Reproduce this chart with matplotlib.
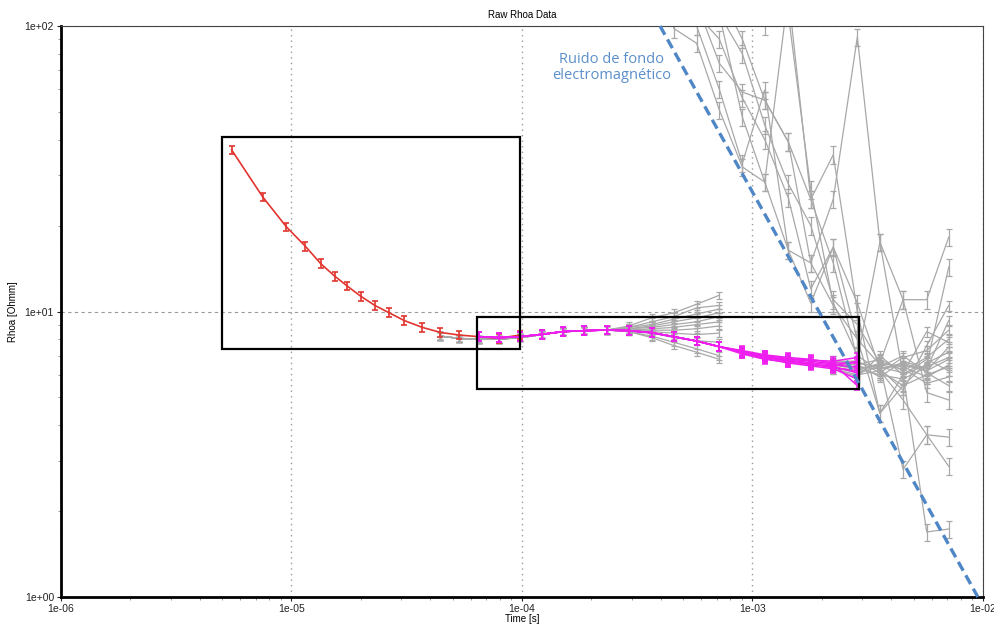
import numpy as np
import matplotlib.pyplot as plt
from matplotlib.patches import Rectangle
from matplotlib.ticker import LogLocator, FuncFormatter, NullFormatter

# time gates [s]
t = np.array([5.5e-6, 7.5e-6, 9.5e-6, 1.15e-5, 1.34e-5, 1.54e-5, 1.74e-5, 2.0e-5,
              2.3e-5, 2.65e-5, 3.08e-5, 3.69e-5, 4.42e-5, 5.33e-5, 6.53e-5, 7.94e-5,
              9.8e-5, 1.22e-4, 1.50e-4, 1.86e-4, 2.33e-4, 2.91e-4, 3.65e-4, 4.56e-4,
              5.72e-4, 7.18e-4, 9.03e-4, 1.13e-3, 1.43e-3, 1.79e-3, 2.24e-3, 2.85e-3,
              3.57e-3, 4.5e-3, 5.7e-3, 7.1e-3])

# early time curve (gates 0-16)
rho_red = [36.8, 25.2, 19.8, 16.9, 14.7, 13.3, 12.3, 11.3, 10.5, 9.9, 9.3, 8.8,
           8.45, 8.27, 8.16, 8.06, 8.27]

# selected late data (gates 14-31), one common head and several tails (gates 26-31)
rho_magenta = [8.16, 8.1, 8.16, 8.32, 8.5, 8.57, 8.61, 8.57, 8.43, 8.16, 7.88, 7.53,
               7.22, 6.95, 6.76, 6.62, 6.5, 6.38]
magenta_tails = [
    [7.22, 6.95, 6.76, 6.62, 6.5, 6.38],
    [7.25, 7.0, 6.85, 6.75, 6.7, 6.9],
    [7.2, 6.9, 6.7, 6.55, 6.4, 6.1],
    [7.3, 7.05, 6.9, 6.8, 6.6, 6.6],
    [7.15, 6.85, 6.6, 6.45, 6.3, 5.8],
    [7.2, 6.95, 6.8, 6.7, 6.55, 5.5],
    [7.25, 6.95, 6.7, 6.5, 6.45, 6.7],
    [7.1, 6.8, 6.65, 6.55, 6.35, 6.2],
]

# raw soundings (grey)
grey_base = [8.2, 8.05, 8.0, 8.0, 8.1, 8.3, 8.5, 8.57, 8.61]   # gates 12-20
grey_fan = [                                                    # gates 21-25
    [8.9, 9.5, 9.9, 10.6, 11.4],
    [8.8, 9.2, 9.6, 10.3, 10.5],
    [8.8, 9.0, 9.4, 9.8, 10.2],
    [8.7, 8.9, 9.2, 9.5, 9.9],
    [8.7, 8.8, 9.0, 9.2, 9.6],
    [8.6, 8.7, 8.8, 9.0, 9.2],
    [8.6, 8.6, 8.6, 8.7, 8.9],
    [8.6, 8.5, 8.4, 8.3, 8.4],
    [8.5, 8.4, 8.1, 7.9, 7.8],
    [8.5, 8.2, 7.8, 7.4, 7.0],
    [8.5, 8.1, 7.6, 7.2, 6.8],
]
grey_noisy = [                                                  # gates 22-35
    [200, 98, 87, 50.8, 32.1, 28.4, 16.4, 10.7, 16.8, 10.7, 6.3, 6.5, 6.2, 6.8],
    [250, 160, 120, 74, 58.7, 55, 39.3, 24.7, 35.4, 10.0, 4.4, 5.5, 6.0, 6.4],
    [300, 200, 140, 110, 48, 28.4, 130, 24.7, 14.8, 6.8, 17.5, 11.0, 5.2, 4.9],
    [200, 150, 100, 60, 33, 59.7, 16.4, 14.8, 24.7, 91.5, 17.5, 6.0, 6.5, 14.3],
    [200, 180, 150, 130, 90, 55, 39.3, 14.8, 10.5, 8.0, 6.5, 2.8, 3.7, 3.63],
    [400, 300, 200, 150, 120, 100, 110, 26.7, 10.7, 7.0, 6.2, 4.9, 3.7, 2.87],
    [200, 150, 110, 90, 56, 40, 25, 12, 16.8, 8.0, 4.4, 6.0, 1.69, 1.73],
    [250, 200, 160, 110, 80, 45, 28, 20, 11, 9.0, 6.6, 11.0, 11.0, 18.2],
]
grey_late = [                                                   # gates 30-35
    [6.5, 6.4, 6.3, 6.6, 6.2, 7.5],
    [6.6, 6.5, 6.8, 6.2, 6.9, 8.0],
    [6.5, 6.3, 6.0, 5.8, 6.4, 6.9],
    [6.7, 6.6, 6.4, 7.0, 6.1, 5.5],
    [6.4, 6.2, 6.6, 6.4, 5.9, 6.5],
    [6.3, 6.0, 6.2, 5.5, 6.6, 7.2],
    [6.7, 6.7, 6.1, 6.9, 7.3, 8.6],
    [6.5, 6.3, 6.5, 6.3, 5.6, 5.9],
    [6.3, 5.9, 7.0, 6.0, 6.8, 6.2],
    [6.6, 6.5, 5.9, 6.7, 6.3, 9.3],
    [6.5, 6.4, 6.3, 5.3, 7.6, 10.5],
    [6.4, 6.1, 6.4, 6.1, 8.5, 7.8],
]

# annotation boxes (t0, t1, rho0, rho1) and noise line
box_early = (5.0e-6, 9.8e-5, 7.39, 40.9)
box_late = (6.36e-5, 2.9e-3, 5.36, 9.59)
noise_t = [3.97e-4, 9.5e-3]
noise_rho = [100, 1]

GREY = '#a8a8a8'
RED = '#e2352f'
MAGENTA = '#ee1fee'


def draw(ax, tt, vals, color, err, lw, z):
    vals = np.array(vals, dtype=float)
    ax.errorbar(tt, vals, yerr=vals * err, color=color, lw=lw, elinewidth=lw,
                capsize=2, capthick=lw, zorder=z)


fig = plt.figure(figsize=(9.95, 6.25), dpi=100)
ax = fig.add_axes([61 / 995, 28 / 625, 922 / 995, 571 / 625])
ax.set_xscale('log')
ax.set_yscale('log')

for fan in grey_fan:
    draw(ax, t[12:26], grey_base + fan, GREY, 0.03, 0.9, 2)
for cur in grey_noisy:
    draw(ax, t[22:36], cur, GREY, 0.07, 0.9, 2)
for cur in grey_late:
    draw(ax, t[30:36], cur, GREY, 0.04, 0.9, 2)

draw(ax, t[0:17], rho_red, RED, 0.035, 1.2, 3)
for tail in magenta_tails:
    draw(ax, t[14:32], rho_magenta[:12] + tail, MAGENTA, 0.035, 1.1, 4)

for t0, t1, r0, r1 in [box_early, box_late]:
    ax.add_patch(Rectangle((t0, r0), t1 - t0, r1 - r0, fill=False, ec='black',
                           lw=1.6, zorder=5))

ax.plot(noise_t, noise_rho, color='#4f86c6', lw=2.4, ls=(0, (3, 1.6)), zorder=6,
        clip_on=False)
ax.text(0.5976, 0.927, 'Ruido de fondo\nelectromagnético', transform=ax.transAxes,
        ha='center', va='center', color='#5b8fcb', fontsize=10.5, family='Open Sans',
        linespacing=1.05)

ax.set_xlim(1e-6, 1e-2)
ax.set_ylim(1, 100)
ax.xaxis.set_major_locator(LogLocator(base=10, numticks=10))
ax.yaxis.set_major_locator(LogLocator(base=10, numticks=10))
ax.xaxis.set_minor_locator(LogLocator(base=10, subs=np.arange(2, 10), numticks=20))
ax.yaxis.set_minor_locator(LogLocator(base=10, subs=np.arange(2, 10), numticks=20))
fmt = FuncFormatter(lambda v, p: f'{v:.0e}')
ax.xaxis.set_major_formatter(fmt)
ax.yaxis.set_major_formatter(fmt)
ax.xaxis.set_minor_formatter(NullFormatter())
ax.yaxis.set_minor_formatter(NullFormatter())
ax.tick_params(which='major', length=3, width=0.8, labelsize=7.5, colors='#222222', pad=2)
ax.tick_params(which='minor', length=2, width=0.6, color='#888888')
for lab in ax.get_xticklabels() + ax.get_yticklabels():
    lab.set_family('Liberation Sans')

ax.grid(True, axis='x', which='major', ls=(0, (1, 3)), color='#999999', lw=1.0)
ax.grid(True, axis='y', which='major', ls=(0, (3, 3)), color='#999999', lw=0.8)

ax.spines['left'].set_linewidth(2)
ax.spines['bottom'].set_linewidth(2)
ax.spines['top'].set_linewidth(0.8)
ax.spines['right'].set_linewidth(0.8)
ax.spines['top'].set_color('#444444')
ax.spines['right'].set_color('#444444')

ax.set_title('Raw Rhoa Data', fontsize=7, family='Liberation Sans', pad=6)
ax.set_xlabel('Time [s]', fontsize=7, family='Liberation Sans', labelpad=0)
ax.set_ylabel('Rhoa [Ohmm]', fontsize=7, family='Liberation Sans', labelpad=5)

fig.savefig('out.png', dpi=100)
